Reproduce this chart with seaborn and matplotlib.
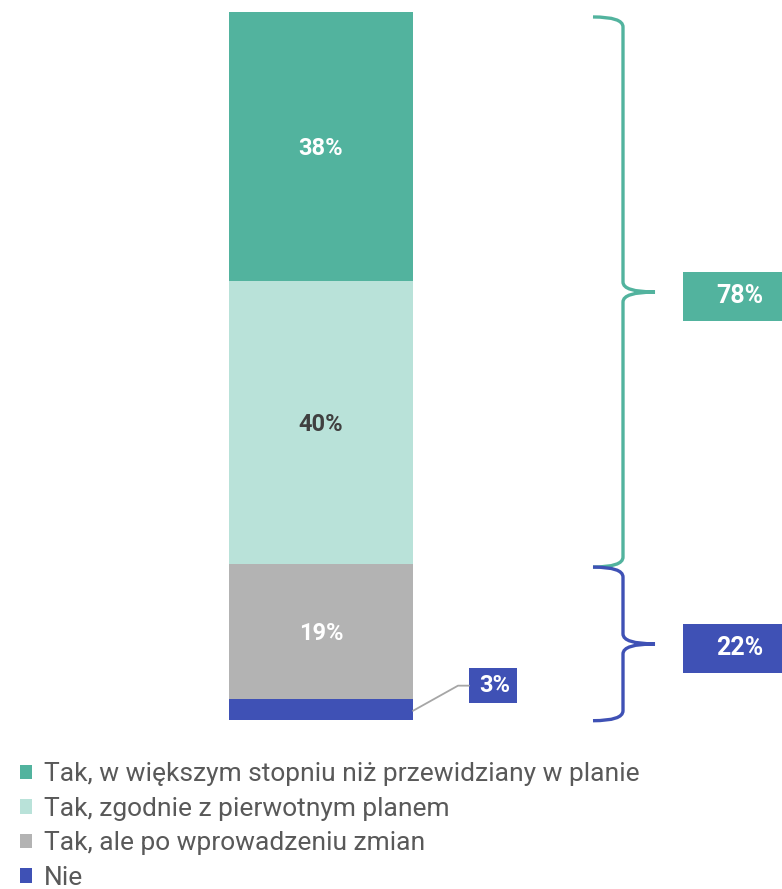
import numpy as np
import pandas as pd
import matplotlib.pyplot as plt
import seaborn as sns
from matplotlib.path import Path
from matplotlib.patches import PathPatch, Rectangle, Patch

# data
categories = ["Tak, w większym stopniu niż przewidziany w planie",
              "Tak, zgodnie z pierwotnym planem",
              "Tak, ale po wprowadzeniu zmian",
              "Nie"]
values = [38, 40, 19, 3]
colors = ["#52B39E", "#B9E2D9", "#B3B3B3", "#3F51B5"]
label_colors = ["white", "#404040", "white", None]
group_yes = values[0] + values[1]   # 78
group_no = values[2] + values[3]    # 22

sns.set_style("white")
plt.rcParams['font.family'] = ['Roboto', 'DejaVu Sans']

fig = plt.figure(figsize=(7.82, 8.89), dpi=100)
ax = fig.add_axes([0, (889 - 720) / 889, 1, 708 / 889])

# stack from bottom: Nie, Tak ale, zgodnie, wiekszym
df = pd.DataFrame({"x": ["bar"] * 4, "cat": categories, "val": values})
bottoms = np.cumsum([0] + values[::-1])[:-1][::-1]
for i in range(4):
    sns.barplot(data=df.iloc[[i]], x="x", y="val", color=colors[i], width=0.8,
                bottom=bottoms[i], ax=ax, saturation=1, linewidth=0)

# pixel -> data x helper (0.8 units = 184 px)
unit = 230.0
cx = 321.0
def px(x):
    return (x - cx) / unit

ax.set_xlim(px(0), px(782))
ax.set_ylim(0, 100)
ax.axis("off")

# segment labels
for i in range(3):
    ax.text(0, bottoms[i] + values[i] / 2 - 0.25, f"{values[i]}%", ha="center", va="center",
            color=label_colors[i], fontsize=17, fontweight="bold")

ppu = 7.08  # px per data unit in y

def brace(y_top, y_bot, color):
    r = 10 / ppu
    xl, xv, xt = px(593), px(623), px(655)
    ym = (y_top + y_bot) / 2
    verts = [(xl, y_top), (xv, y_top), (xv, y_top - r),
             (xv, ym + r), (xv, ym), (xt, ym),
             (xv, ym), (xv, ym - r),
             (xv, y_bot + r), (xv, y_bot), (xl, y_bot)]
    codes = [Path.MOVETO, Path.CURVE3, Path.CURVE3,
             Path.LINETO, Path.CURVE3, Path.CURVE3,
             Path.CURVE3, Path.CURVE3,
             Path.LINETO, Path.CURVE3, Path.CURVE3]
    ax.add_patch(PathPatch(Path(verts, codes), fill=False, edgecolor=color,
                           linewidth=2.4, clip_on=False, capstyle="butt"))
    return ym

def box(xc, yc, w, h, text, color, fs, dx=0):
    ax.add_patch(Rectangle((px(xc - w / 2), yc - h / 2 / ppu), w / unit, h / ppu,
                           facecolor=color, edgecolor="none", clip_on=False))
    ax.text(px(xc + dx), yc, text, ha="center", va="center", color="white",
            fontsize=fs, fontweight="bold")

ym1 = brace(99.3, 100 - group_yes + 0.2 - 0.6, colors[0])
ym2 = brace(group_no - 0.4, -0.1, colors[3])
box(732.5, ym1 - 0.6, 99, 49, f"{group_yes}%", colors[0], 18, dx=7)
box(732.5, ym2 - 0.6, 99, 49, f"{group_no}%", colors[3], 18, dx=7)

# small label for Nie
ax.plot([px(413), px(458), px(469)], [values[3] / 2 - 0.2, 4.85, 4.85],
        color="#A6A6A6", linewidth=1.3, clip_on=False)
box(493, 4.85, 48, 35, f"{values[3]}%", colors[3], 17, dx=2)

handles = [Patch(facecolor=c, edgecolor="none") for c in colors]
fig.legend(handles, categories, loc="upper left", bbox_to_anchor=(0.026, 0.1425),
           frameon=False, fontsize=19, labelcolor="#595959", handlelength=0.45,
           handleheight=0.45, handletextpad=0.45, labelspacing=0.40, borderaxespad=0,
           borderpad=0)

fig.savefig("out.png", dpi=100)
